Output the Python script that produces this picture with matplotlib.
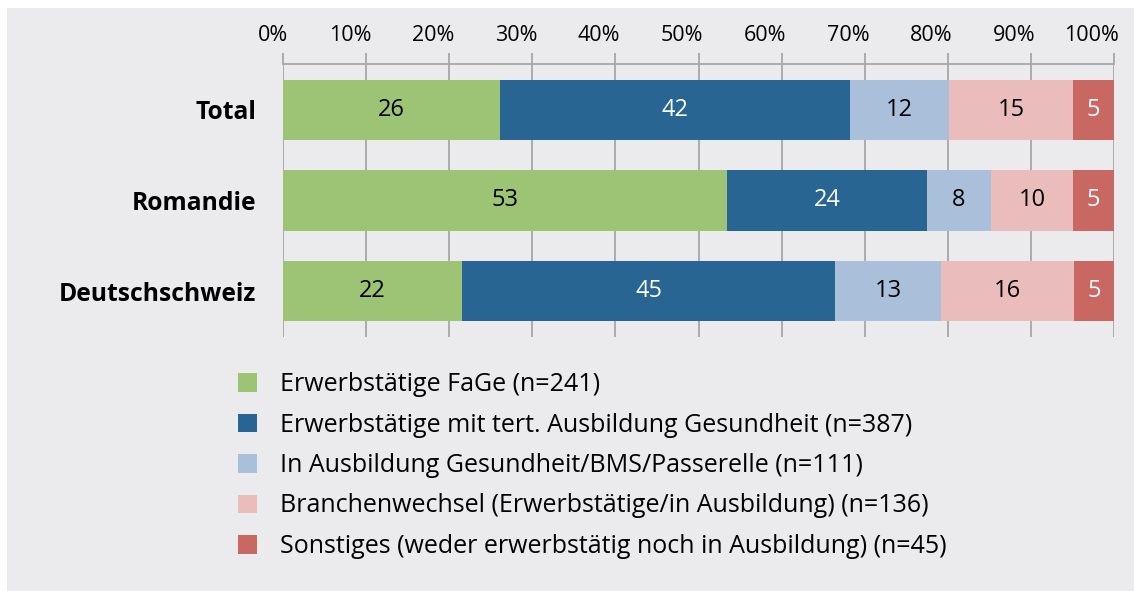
import numpy as np
import matplotlib.pyplot as plt
from matplotlib.patches import Rectangle, Patch
from matplotlib.transforms import ScaledTranslation

plt.rcParams['font.family'] = ['Open Sans', 'DejaVu Sans']

regions = ['Total', 'Romandie', 'Deutschschweiz']
series = ['Erwerbstätige FaGe (n=241)',
          'Erwerbstätige mit tert. Ausbildung Gesundheit (n=387)',
          'In Ausbildung Gesundheit/BMS/Passerelle (n=111)',
          'Branchenwechsel (Erwerbstätige/in Ausbildung) (n=136)',
          'Sonstiges (weder erwerbstätig noch in Ausbildung) (n=45)']
fage = [26.1, 53.4, 21.6]
tert = [42.1, 24.1, 44.8]
ausb = [11.9, 7.7, 12.8]
wechsel = [15.0, 9.9, 16.0]
sonst = [4.9, 4.9, 4.8]
labels = [[26, 53, 22], [42, 24, 45], [12, 8, 13], [15, 10, 16], [5, 5, 5]]

colors = ['#9dc375', '#286592', '#a9bfda', '#ebbcbc', '#c96763']
txtcol = ['black', 'white', 'black', 'black', 'white']
bg = '#ebebed'

W, H = 1134, 591
fig = plt.figure(figsize=(W / 100, H / 100), dpi=100, facecolor='white')
fig.patches.append(Rectangle((7 / W, 0), 1 - 7 / W, (H - 8) / H,
                             transform=fig.transFigure, facecolor=bg,
                             edgecolor='none', zorder=-10))

ax = fig.add_axes([283 / W, 1 - 336.7 / H, (1114 - 283) / W, (336.7 - 64.3) / H])
ax.set_facecolor('none')

y = np.arange(len(regions))
left = np.zeros(len(regions))
for vals, col, tc, labs in zip([fage, tert, ausb, wechsel, sonst], colors, txtcol, labels):
    vals = np.array(vals)
    ax.barh(y, vals, left=left, height=0.665, color=col, zorder=3)
    for yi, l, v, lab in zip(y, left, vals, labs):
        ax.text(l + v / 2, yi, str(lab), ha='center', va='center',
                color=tc, fontsize=17, zorder=4)
    left = left + vals

ax.set_xlim(0, 100)
ax.set_ylim(2.5, -0.5)
ax.set_xticks(np.arange(0, 101, 10))
ax.set_xticklabels([f'{t}%' for t in range(0, 101, 10)])
ax.xaxis.tick_top()
ax.tick_params(axis='x', length=8, width=1.3, color='#a6a6a6', pad=5, labelsize=15.5)
# labels sit right-aligned just past their tick
shift = ScaledTranslation(5 / 100, 0, fig.dpi_scale_trans)
for lab in ax.get_xticklabels():
    lab.set_horizontalalignment('right')
    lab.set_transform(lab.get_transform() + shift)
ax.grid(axis='x', color='#a6a6a6', linewidth=1.3, zorder=0)
ax.set_yticks(y)
ax.set_yticklabels(regions, fontweight='bold', fontsize=17.7)
ax.tick_params(axis='y', length=0, pad=19)
for s in ['left', 'right', 'bottom']:
    ax.spines[s].set_visible(False)
ax.spines['top'].set_color('#a6a6a6')
ax.spines['top'].set_linewidth(1.3)

handles = [Patch(facecolor=c, edgecolor='none') for c in colors]
fig.legend(handles, series, loc='upper left', bbox_to_anchor=(228 / W, 1 - 362 / H),
           frameon=False, fontsize=18, handlelength=0.76, handleheight=0.76,
           handletextpad=0.92, labelspacing=0.62, borderaxespad=0)

fig.savefig('out.png', dpi=100, facecolor='white')
